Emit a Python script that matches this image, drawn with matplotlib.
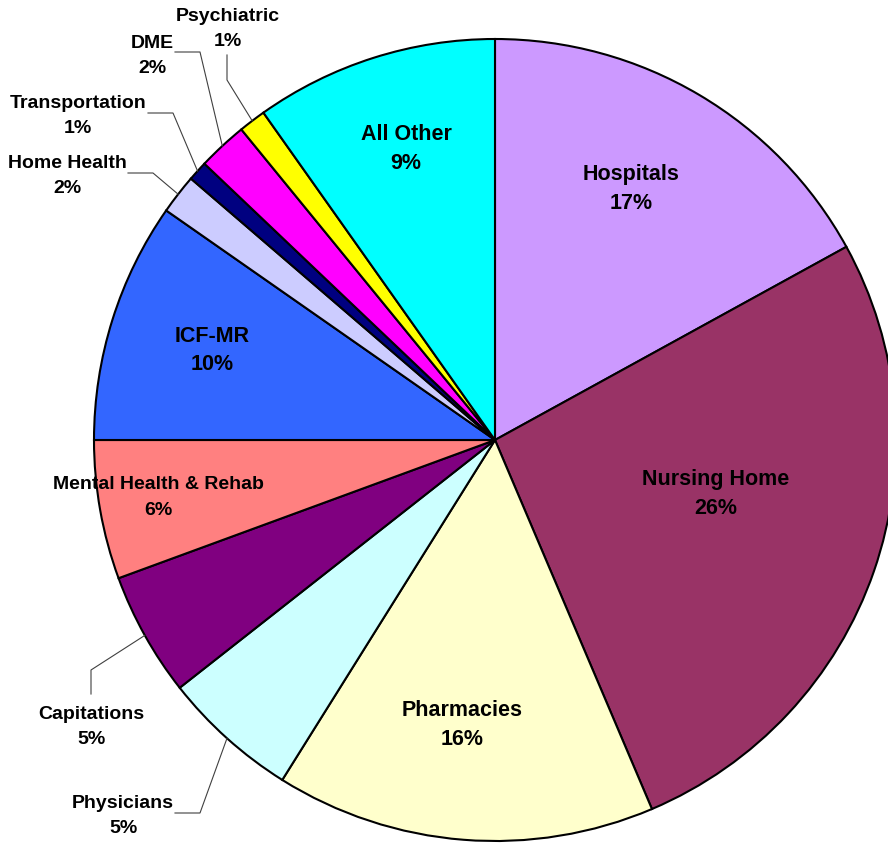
import matplotlib
matplotlib.use('Agg')
import matplotlib.pyplot as plt
import numpy as np

categories = ['Hospitals', 'Nursing Home', 'Pharmacies', 'Physicians', 'Capitations',
              'Mental Health & Rehab', 'ICF-MR', 'Home Health', 'Transportation',
              'DME', 'Psychiatric', 'All Other']
shares = [17.0, 26.6, 15.3, 5.5, 5.0, 5.6, 9.7, 1.6, 0.8, 2.0, 1.1, 9.8]
pct_labels = ['17%', '26%', '16%', '5%', '5%', '6%', '10%', '2%', '1%', '2%', '1%', '9%']
colors = ['#CC99FF', '#993366', '#FFFFCC', '#CCFFFF', '#800080', '#FF8080',
          '#3366FF', '#CCCCFF', '#000080', '#FF00FF', '#FFFF00', '#00FFFF']

W, H = 888, 843
CX, CY, R = 495, 440, 401          # pie centre / radius in pixels (from top)

# label layout in pixels from top: (x, baseline of name, baseline of pct, font size)
label_pos = {
    'Hospitals': (631, 180, 209, 15.5),
    'Nursing Home': (716, 485, 514, 15.5),
    'Pharmacies': (462, 716, 745, 15.5),
    'Physicians': (123, 808, 833, 14),
    'Capitations': (91, 719, 744, 14),
    'Mental Health & Rehab': (158, 489, 515, 14),
    'ICF-MR': (212, 342, 370, 15.5),
    'Home Health': (67, 168, 193, 14),
    'Transportation': (78, 108, 133, 14),
    'DME': (152, 48, 73, 14),
    'Psychiatric': (228, 21, 46, 14),
    'All Other': (406, 140, 169, 15.5),
}
# leader lines for the small slices: start point and elbow (pixels from top)
leaders = {
    'Psychiatric': [(227, 55), (227, 80)],
    'DME': [(175, 52), (200, 52)],
    'Transportation': [(148, 113), (173, 113)],
    'Home Health': [(128, 173), (153, 173)],
    'Capitations': [(91, 694), (91, 670)],
    'Physicians': [(175, 813), (200, 813)],
}


def px(x, y):
    return x, H - y


fig = plt.figure(figsize=(W / 100, H / 100), dpi=100)
ax = fig.add_axes([0, 0, 1, 1])

wedges, _ = ax.pie(shares, colors=colors, startangle=90, counterclock=False,
                   center=px(CX, CY), radius=R,
                   wedgeprops=dict(edgecolor='black', linewidth=1.5))

ax.set_xlim(0, W)
ax.set_ylim(0, H)
ax.set_aspect('equal')
ax.axis('off')

for name, pct in zip(categories, pct_labels):
    x, yn, yp, fs = label_pos[name]
    font = dict(family='Liberation Sans', weight='bold', size=fs, color='black')
    ax.text(*px(x, yn), name, ha='center', va='baseline', **font)
    ax.text(*px(x, yp), pct, ha='center', va='baseline', **font)

for w, name in zip(wedges, categories):
    if name not in leaders:
        continue
    mid = np.deg2rad((w.theta1 + w.theta2) / 2)
    ex, ey = CX + R * np.cos(mid), H - CY + R * np.sin(mid)
    pts = [px(*p) for p in leaders[name]] + [(ex, ey)]
    xs, ys = zip(*pts)
    ax.plot(xs, ys, color='#404040', linewidth=0.8)

fig.savefig('out.png', dpi=100)
